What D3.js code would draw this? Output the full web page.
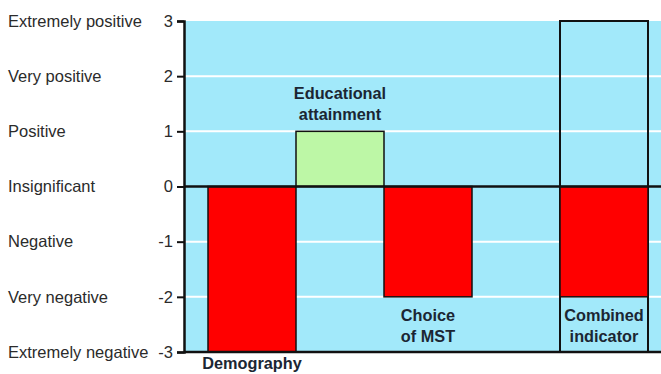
<!DOCTYPE html>
<html>
<head>
<meta charset="utf-8">
<script src="https://cdn.jsdelivr.net/npm/d3@7"></script>
<style>
  html, body { margin: 0; padding: 0; background: #ffffff; }
  svg { display: block; font-family: "Liberation Sans", Arial, Helvetica, sans-serif; }
</style>
</head>
<body>
<svg id="chart" width="661" height="374"></svg>
<script>
// Rating scale on the y axis
const tickValues = [3, 2, 1, 0, -1, -2, -3];
const tickLabels = ["Extremely positive", "Very positive", "Positive", "Insignificant",
                    "Negative", "Very negative", "Extremely negative"];

// Indicators (slot "gap" is left empty between the single indicators and the combined one)
const slots = ["Demography", "Educational attainment", "Choice of MST", "gap", "Combined indicator"];
const indicators = ["Demography", "Educational attainment", "Choice of MST", "Combined indicator"];
const scores = [-3, 1, -2, -2];
const labelLines = [["Demography"], ["Educational", "attainment"], ["Choice", "of MST"], ["Combined", "indicator"]];

const svg = d3.select("#chart");
const plotLeft = 184, plotRight = 661;

const y = d3.scaleLinear().domain([-3, 3]).range([352, 21]);
const x = d3.scaleBand().domain(slots).range([208, 648]).padding(0);

// Background panel
svg.append("rect")
  .attr("x", plotLeft).attr("y", y(3))
  .attr("width", plotRight - plotLeft).attr("height", y(-3) - y(3))
  .attr("fill", "#a2e9fa");

// White gridlines
svg.append("g").selectAll("line")
  .data(tickValues.filter(v => v !== 0 && Math.abs(v) !== 3))
  .join("line")
  .attr("x1", plotLeft).attr("x2", plotRight)
  .attr("y1", d => y(d)).attr("y2", d => y(d))
  .attr("stroke", "#ffffff").attr("stroke-width", 2);

// Frame of the combined indicator spanning the whole scale
const comb = "Combined indicator";
svg.append("rect")
  .attr("x", x(comb)).attr("y", y(3))
  .attr("width", x.bandwidth()).attr("height", y(-3) - y(3))
  .attr("fill", "none").attr("stroke", "#111").attr("stroke-width", 2);

// Bars
const colour = v => v > 0 ? "#bdf7a6" : "#ff0000";
svg.append("g").selectAll("rect")
  .data(indicators.map((k, i) => ({ key: k, v: scores[i] })))
  .join("rect")
  .attr("x", d => x(d.key))
  .attr("y", d => y(Math.max(0, d.v)))
  .attr("width", x.bandwidth())
  .attr("height", d => Math.abs(y(d.v) - y(0)))
  .attr("fill", d => colour(d.v))
  .attr("stroke", "#111").attr("stroke-width", 1.5);

// Zero line and bottom line
svg.append("line")
  .attr("x1", plotLeft).attr("x2", plotRight)
  .attr("y1", y(0)).attr("y2", y(0))
  .attr("stroke", "#111").attr("stroke-width", 2.5);
svg.append("line")
  .attr("x1", plotLeft).attr("x2", plotRight)
  .attr("y1", y(-3)).attr("y2", y(-3))
  .attr("stroke", "#111").attr("stroke-width", 2.5);

// Left axis with numeric ticks
const yAxis = d3.axisLeft(y).tickValues(tickValues).tickFormat(d => String(d))
  .tickSize(7).tickPadding(4);
const ag = svg.append("g").attr("transform", `translate(${plotLeft},0)`).call(yAxis);
ag.select(".domain").attr("stroke", "#111").attr("stroke-width", 2.5);
ag.selectAll(".tick line").attr("stroke", "#111").attr("stroke-width", 2);
ag.selectAll(".tick text").attr("fill", "#2b2b2b").style("font-size", "16.5px")
  .style("font-family", "'Liberation Sans', Arial, sans-serif");

// Verbal rating labels
svg.append("g").selectAll("text")
  .data(tickValues.map((v, i) => ({ v, t: tickLabels[i] })))
  .join("text")
  .attr("x", 8).attr("y", d => y(d.v)).attr("dy", "0.35em")
  .attr("fill", "#2b2b2b").style("font-size", "16.5px")
  .text(d => d.t);

// Indicator labels
const labelPos = [
  { key: "Demography", y0: 369 },
  { key: "Educational attainment", y0: 99 },
  { key: "Choice of MST", y0: 321 },
  { key: "Combined indicator", y0: 321 }
];
labelPos.forEach(p => {
  const lines = labelLines[indicators.indexOf(p.key)];
  const cx = x(p.key) + x.bandwidth() / 2;
  const t = svg.append("text")
    .attr("x", cx).attr("y", p.y0)
    .attr("text-anchor", "middle")
    .attr("fill", "#1b2633")
    .style("font-size", "16.3px").style("font-weight", "bold");
  lines.forEach((ln, i) => {
    t.append("tspan").attr("x", cx).attr("dy", i === 0 ? 0 : 21).text(ln);
  });
});
</script>
</body>
</html>
